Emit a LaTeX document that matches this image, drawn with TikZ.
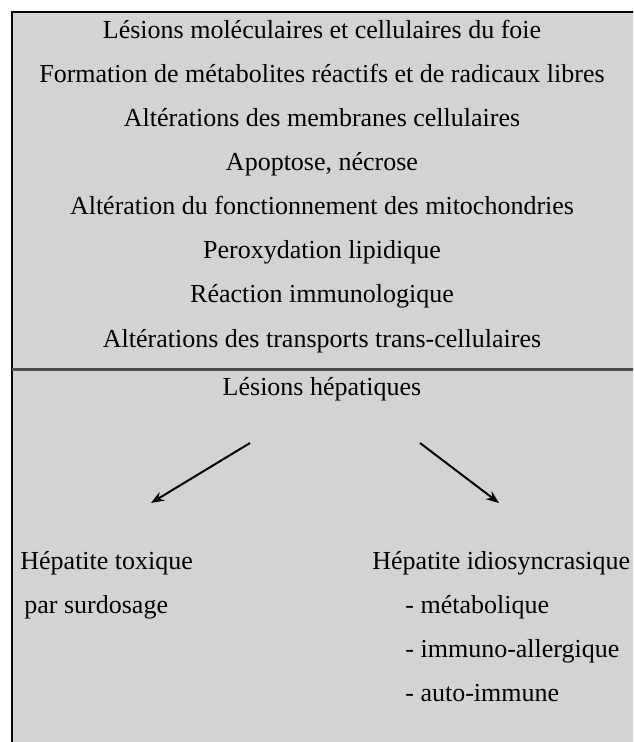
\documentclass[tikz,border=0pt]{standalone}
\usepackage{fontspec}
\setmainfont{Liberation Serif}
\usepackage{tikz}
\usetikzlibrary{arrows.meta}
\definecolor{boxgray}{RGB}{211,211,211}
\definecolor{rulegray}{RGB}{77,77,77}

\begin{document}
\begin{tikzpicture}[x=0.5pt,y=-0.5pt,-{Stealth[length=6.5pt,width=5pt]},
  line node/.style={inner sep=0pt,anchor=base,font=\fontsize{13}{15}\selectfont},
  left node/.style={line node,anchor=base west}]
\useasboundingbox (0,0) rectangle (633,742);
\clip (0,0) rectangle (633,742);

% frame and separator
\draw[-,fill=boxgray,line width=1pt] (12,12) rectangle (660,770);
\draw[-,rulegray,line width=1.5pt] (12,369) -- (660,369);

% upper part
  \node[line node] (foie) at (322,39) {Lésions moléculaires et cellulaires du foie};
  \node[line node] (radic) at (322,83) {Formation de métabolites réactifs et de radicaux libres};
  \node[line node] (membr) at (322,127) {Altérations des membranes cellulaires};
  \node[line node] (apopt) at (322,171) {Apoptose, nécrose};
  \node[line node] (mitoch) at (322,215) {Altération du fonctionnement des mitochondries};
  \node[line node] (perox) at (322,259) {Peroxydation lipidique};
  \node[line node] (immun) at (322,303) {Réaction immunologique};
  \node[line node] (transp) at (322,347) {Altérations des transports trans-cellulaires};

% lower part
  \node[line node] (hepat) at (322,395) {Lésions hépatiques};

  \coordinate (lstart) at (250,443);
  \coordinate (lend) at (151,503);
  \coordinate (rstart) at (420,443);
  \coordinate (rend) at (499,503);

  \path[line width=1pt]
    (lstart) edge (lend)
    (rstart) edge (rend);

  \node[left node] (toxiq) at (20,569) {Hépatite toxique};
  \node[left node] (surdos) at (24,613) {par surdosage};

  \node[left node] (idiosyn) at (372,569) {Hépatite idiosyncrasique};
  \node[left node] (metab) at (405,613) {- métabolique};
  \node[left node] (allerg) at (405,657) {- immuno-allergique};
  \node[left node] (autoim) at (405,701) {- auto-immune};

\end{tikzpicture}
\end{document}
